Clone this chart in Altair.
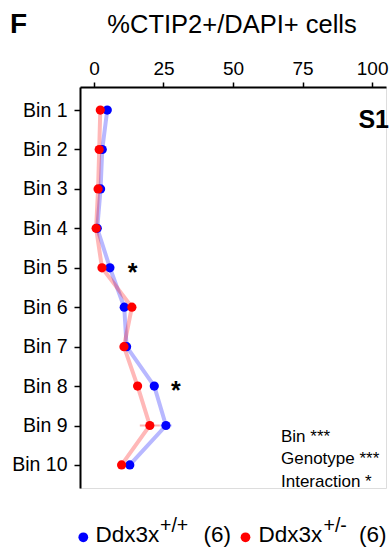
import altair as alt
import pandas as pd

# ---- data ----
bins = [f"Bin {i}" for i in range(1, 11)]
wt_mean = [4.8, 3.0, 2.4, 1.2, 5.75, 10.9, 11.75, 21.7, 25.9, 12.9]
wt_sem = [0.8, 0.6, 0.5, 0.4, 0.9, 1.0, 1.0, 1.5, 2.0, 1.0]
het_mean = [2.3, 1.9, 1.5, 0.8, 2.9, 13.65, 10.8, 15.7, 20.1, 9.95]
het_sem = [0.7, 0.5, 0.5, 0.4, 0.8, 1.2, 1.0, 1.5, 3.6, 1.0]
genotypes = ["wt", "het"]
colors = ["#0000ff", "#ff0000"]
star_bins = ["Bin 5", "Bin 8"]
star_x = [13.9, 29.5]
x_ticks = [0, 25, 50, 75, 100]
stats_lines = ["Bin ***", "Genotype ***", "Interaction *"]

FONT = "Liberation Sans"

rows = []
for g, means, sems in [("wt", wt_mean, wt_sem), ("het", het_mean, het_sem)]:
    for i, (b, m, s) in enumerate(zip(bins, means, sems)):
        rows.append({"genotype": g, "bin": b, "idx": i, "mean": m, "lo": m - s, "hi": m + s})
df = pd.DataFrame(rows)
stars = pd.DataFrame({"bin": star_bins, "x": star_x, "t": ["*"] * len(star_bins)})
one = pd.DataFrame({"k": [0]})

xscale = alt.Scale(domain=[-5, 105], nice=False, zero=False)
yscale = alt.Scale(type="point", domain=bins, padding=0.585)
cscale = alt.Scale(domain=genotypes, range=colors)

xenc = alt.X("mean:Q", scale=xscale,
             axis=alt.Axis(orient="top", values=x_ticks, title=None, grid=False,
                           labelFontSize=19, labelColor="black", tickSize=5,
                           tickColor="black", tickWidth=1.5, domainColor="black",
                           domainWidth=2, labelPadding=4))
yenc = alt.Y("bin:N", scale=yscale, sort=bins,
             axis=alt.Axis(orient="left", title=None, grid=False, labelFontSize=19.5,
                           labelColor="black", tickSize=6, tickColor="black",
                           tickWidth=1.5, domainColor="black", domainWidth=2,
                           labelPadding=7))
cenc = alt.Color("genotype:N", scale=cscale, legend=None)

base = alt.Chart(df)
err = base.mark_rule(strokeWidth=2, opacity=0.3).encode(
    x=alt.X("lo:Q", scale=xscale), x2="hi:Q", y=alt.Y("bin:N", scale=yscale, sort=bins), color=cenc)
line = base.mark_line(strokeWidth=4, opacity=0.28).encode(
    x=xenc, y=yenc, color=cenc, detail="genotype:N", order=alt.Order("idx:Q"))
pts = base.mark_circle(size=85, opacity=1).encode(x=xenc, y=yenc, color=cenc)

star_layer = alt.Chart(stars).mark_text(fontSize=25, fontWeight="bold", font=FONT,
                                        baseline="alphabetic", dy=13, color="black").encode(
    x=alt.X("x:Q", scale=xscale), y=alt.Y("bin:N", scale=yscale, sort=bins), text="t:N")

def txt(text, x, y, size, weight="normal", align="left", color="black"):
    return alt.Chart(one).mark_text(fontSize=size, fontWeight=weight, font=FONT, align=align,
                                    baseline="alphabetic", color=color).encode(
        x=alt.value(x), y=alt.value(y), text=alt.value(text))

def dot(x, y, color):
    return alt.Chart(one).mark_circle(size=95, opacity=1, color=color).encode(
        x=alt.value(x), y=alt.value(y))

annots = [
    txt("%CTIP2+/DAPI+ cells", 152, -54, 25.5, align="center"),
    txt("F", -70, -54, 28, weight="bold"),
    txt("S1", 309, 41, 25, weight="bold", align="right"),
]
for i, s in enumerate(stats_lines):
    annots.append(txt(s, 201, 354.7 + i * 22.5, 17))

legend = [
    dot(3.3, 450.3, colors[0]),
    txt("Ddx3x", 15.5, 455.3, 22.5),
    txt("+/+", 80, 445, 19.5),
    txt("(6)", 123.5, 455.3, 22.5),
    dot(165.5, 450.3, colors[1]),
    txt("Ddx3x", 178.5, 455.3, 22.5),
    txt("+/-", 243.5, 445, 19.5),
    txt("(6)", 279, 455.3, 22.5),
]

chart = alt.layer(err, line, pts, star_layer, *annots, *legend).properties(
    width=306, height=401,
    autosize=alt.AutoSizeParams(type="none"),
    padding={"left": 80, "top": 87, "right": 5, "bottom": 60},
).configure_view(stroke=None).configure(font=FONT, background="white")

chart.save("out.html", embed_options={"renderer": "svg", "actions": False})
